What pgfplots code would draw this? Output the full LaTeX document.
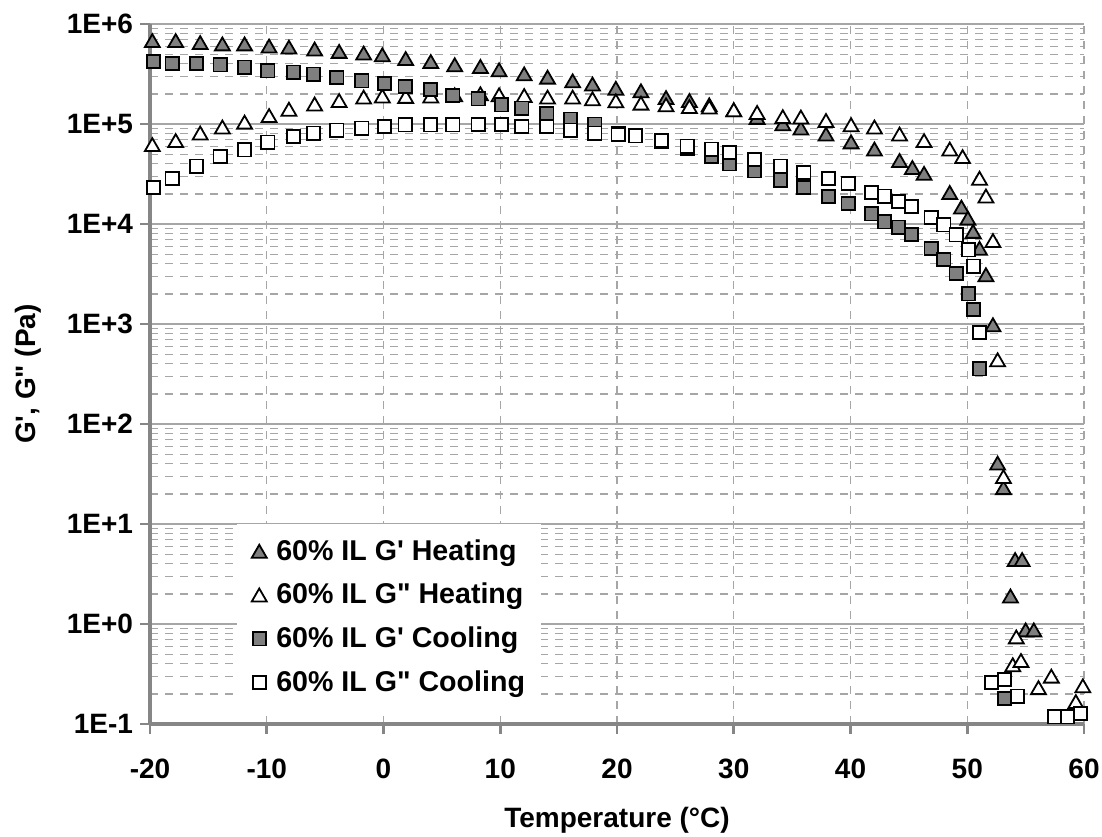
\documentclass[border=0pt]{standalone}
\usepackage{fontspec}
\setmainfont{Liberation Sans}[Ligatures=TeXOff]
\usepackage{pgfplots}
\usepackage{pgfplotstable}
\pgfplotsset{compat=1.18}
\definecolor{gridgray}{HTML}{A6A6A6}
\definecolor{axisgray}{HTML}{868686}
\definecolor{markgray}{HTML}{7F7F7F}

% heating, G'
\pgfplotstableread{
T G
-19.8 6.8e5
-17.8 6.8e5
-15.7 6.5e5
-13.8 6.3e5
-11.9 6.3e5
-9.8 6.0e5
-8.1 5.85e5
-5.9 5.6e5
-3.8 5.3e5
-1.7 5.1e5
-0.1 4.9e5
1.9 4.5e5
4.05 4.2e5
6.1 3.9e5
8.3 3.75e5
9.9 3.47e5
12.05 3.16e5
14.05 2.93e5
16.2 2.69e5
17.9 2.5e5
19.9 2.27e5
22.05 2.14e5
24.2 1.83e5
26.2 1.71e5
27.9 1.55e5
30.0 1.38e5
32.0 1.16e5
34.2 1.0e5
35.75 9.06e4
37.9 7.9e4
40.05 6.6e4
42.05 5.6e4
44.2 4.3e4
45.3 3.66e4
46.3 3.2e4
48.5 2.06e4
49.5 1.47e4
50.05 1.14e4
50.5 8.4e3
51.05 5.7e3
51.6 3.1e3
52.2 980
52.6 40.5
53.1 23
53.7 1.9
54.1 4.4
54.7 4.4
55.0 0.87
55.7 0.87
}\heatGp

% heating, G''
\pgfplotstableread{
T G
-19.8 6.2e4
-17.8 6.8e4
-15.7 8.1e4
-13.8 9.3e4
-11.9 1.04e5
-9.8 1.21e5
-8.1 1.4e5
-5.9 1.58e5
-3.8 1.71e5
-1.7 1.85e5
-0.1 1.9e5
1.9 1.88e5
4.05 1.9e5
6.1 1.95e5
8.3 2.0e5
9.9 1.95e5
12.05 1.92e5
14.05 1.85e5
16.2 1.85e5
17.9 1.78e5
19.9 1.7e5
22.05 1.61e5
24.2 1.55e5
26.2 1.49e5
27.9 1.47e5
30.0 1.38e5
32.0 1.3e5
34.2 1.18e5
35.75 1.17e5
37.9 1.08e5
40.05 9.8e4
42.05 9.3e4
44.2 7.9e4
46.3 6.8e4
48.5 5.6e4
49.6 4.7e4
51.05 2.86e4
51.6 1.9e4
52.2 6.8e3
52.6 437
53.1 29.7
53.9 0.39
54.2 0.74
54.6 0.43
56.1 0.23
57.2 0.30
59.3 0.167
59.9 0.24
}\heatGpp

% cooling, G'
\pgfplotstableread{
T G
-19.7 4.2e5
-18.1 4.05e5
-16.0 4.05e5
-14.0 3.9e5
-11.9 3.7e5
-9.9 3.4e5
-7.7 3.3e5
-6.0 3.16e5
-4.0 2.9e5
-1.85 2.7e5
0.1 2.55e5
1.85 2.36e5
4.0 2.2e5
5.95 1.92e5
8.1 1.78e5
10.1 1.55e5
11.85 1.44e5
14.0 1.26e5
16.0 1.12e5
18.1 1.0e5
20.1 8.1e4
21.6 7.6e4
23.8 6.7e4
26.0 5.7e4
28.1 4.7e4
29.65 4.0e4
31.8 3.4e4
34.0 2.75e4
36.0 2.33e4
38.1 1.88e4
39.8 1.6e4
41.8 1.26e4
42.9 1.05e4
44.1 9.3e3
45.2 7.9e3
46.9 5.7e3
48.0 4.4e3
49.05 3.2e3
50.1 2.0e3
50.55 1.4e3
51.05 355
53.2 0.18
}\coolGp

% cooling, G''
\pgfplotstableread{
T G
-19.7 2.33e4
-18.1 2.86e4
-16.0 3.8e4
-14.0 4.7e4
-11.9 5.5e4
-9.9 6.6e4
-7.7 7.5e4
-6.0 8.1e4
-4.0 8.7e4
-1.85 9.1e4
0.1 9.5e4
1.85 9.8e4
4.0 9.8e4
5.95 9.8e4
8.1 9.9e4
10.1 9.9e4
11.85 9.5e4
14.0 9.4e4
16.0 8.7e4
18.1 8.1e4
20.1 7.8e4
21.6 7.6e4
23.8 6.8e4
26.0 6.0e4
28.1 5.6e4
29.65 5.2e4
31.8 4.4e4
34.0 3.8e4
36.0 3.26e4
38.1 2.86e4
39.8 2.55e4
41.8 2.07e4
42.9 1.9e4
44.1 1.67e4
45.2 1.49e4
46.9 1.16e4
48.0 9.8e3
49.05 7.8e3
50.1 5.5e3
50.55 3.8e3
51.05 820
52.1 0.26
53.2 0.28
54.3 0.19
57.5 0.118
58.6 0.118
59.7 0.128
}\coolGpp

\begin{document}
\begin{tikzpicture}
\begin{semilogyaxis}[name=ax, scale only axis, width=467pt, height=350pt,
  xmin=-20, xmax=60, ymin=0.1, ymax=1e6, clip=false,
  xtick={-20,-10,0,10,20,30,40,50,60},
  xticklabels={-20,-10,0,10,20,30,40,50,60},
  ytick={0.1,1,10,100,1000,10000,100000,1000000},
  yticklabels={1E-1,1E+0,1E+1,1E+2,1E+3,1E+4,1E+5,1E+6},
  minor ytick={0.2,0.3,0.4,0.5,0.6,0.7,0.8,0.9,
    2,3,4,5,6,7,8,9,20,30,40,50,60,70,80,90,
    200,300,400,500,600,700,800,900,
    2000,3000,4000,5000,6000,7000,8000,9000,
    20000,30000,40000,50000,60000,70000,80000,90000,
    200000,300000,400000,500000,600000,700000,800000,900000},
  axis x line*=bottom, axis y line*=left,
  axis line style={axisgray, line width=1.6pt, -},
  tick align=outside, major tick length=5pt, minor tick length=0pt,
  major tick style={axisgray, line width=1.3pt},
  xmajorgrids, ymajorgrids, yminorgrids,
  major x grid style={gridgray, line width=0.6pt, dash pattern=on 4pt off 3.5pt},
  major y grid style={gridgray, line width=0.6pt},
  minor y grid style={gridgray, line width=0.6pt, dash pattern=on 4pt off 3.5pt},
  tick label style={font=\fontsize{14}{17}\selectfont\bfseries},
  xticklabel style={yshift=-9pt},
  label style={font=\fontsize{14}{17}\selectfont\bfseries},
  xlabel={Temperature (°C)},
  ylabel={G', G" (Pa)},
  xlabel style={at={(axis description cs:0.5,-0.138)}, anchor=center},
  ylabel style={at={(axis description cs:-0.1306,0.5)}, anchor=center},
  legend style={at={(0.093,0.287)}, anchor=north west, draw=none, fill=white,
    font=\fontsize{14.3}{17}\selectfont\bfseries, row sep=6pt,
    inner xsep=6pt, inner ysep=6pt},
  legend cell align=left,
  legend image code/.code={\draw[#1,mark repeat=2,mark phase=2] plot coordinates {(0pt,0pt) (5pt,0pt) (10pt,0pt)};
    \path[draw=none, fill=none] (0pt,-0.1pt) rectangle (11.5pt,0.1pt);},
]
\addplot[only marks, mark=triangle*, mark size=4.3pt,
  mark options={fill=markgray, draw=black, line width=0.9pt, yshift=-1pt}]
  table[x=T, y=G] {\heatGp};
\addlegendentry{60\% IL G' Heating}
\addplot[only marks, mark=triangle*, mark size=4.3pt,
  mark options={fill=white, draw=black, line width=0.9pt, yshift=-1pt}]
  table[x=T, y=G] {\heatGpp};
\addlegendentry{60\% IL G" Heating}
\addplot[only marks, mark=square*, mark size=3.3pt,
  mark options={fill=markgray, draw=black, line width=0.9pt}]
  table[x=T, y=G] {\coolGp};
\addlegendentry{60\% IL G' Cooling}
\addplot[only marks, mark=square*, mark size=3.3pt,
  mark options={fill=white, draw=black, line width=0.9pt}]
  table[x=T, y=G] {\coolGpp};
\addlegendentry{60\% IL G" Cooling}
\end{semilogyaxis}
\pgfresetboundingbox
\path ([shift={(-75pt,-56pt)}]ax.south west) rectangle ([shift={(9pt,12pt)}]ax.north east);
\end{tikzpicture}
\end{document}
